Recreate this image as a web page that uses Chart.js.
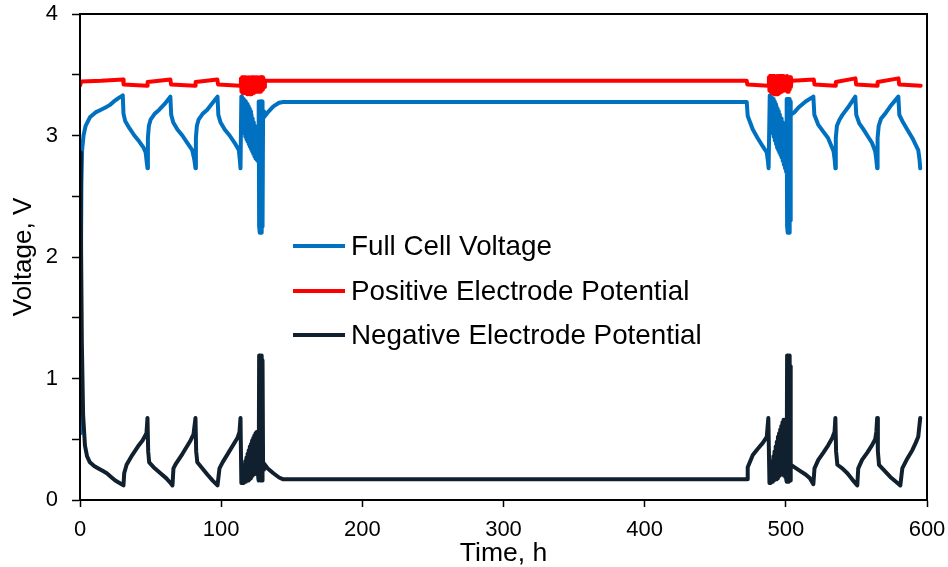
<!DOCTYPE html>
<html>
<head>
<meta charset="utf-8">
<script src="https://cdn.jsdelivr.net/npm/chart.js@4.4.1/dist/chart.umd.min.js"></script>
<style>
  html, body { margin: 0; padding: 0; background: #fff; }
  #wrap { position: relative; width: 948px; height: 567px; }
  .item { position: absolute; left: 293px; height: 30px; line-height: 30px; white-space: nowrap;
          font-family: 'Liberation Sans', Arial, sans-serif; font-size: 27.8px; color: #000; }
  .swatch { position: absolute; left: 0; top: 13px; width: 52px; height: 4px; }
  .label { position: absolute; left: 58px; top: 0; }
</style>
</head>
<body>
<div id="wrap">
  <canvas id="display1" width="948" height="567"></canvas>
  <div id="legend"></div>
</div>
<script>
(function() {
  'use strict';

  // 時間 [h], 電圧 [V]
  var fullCell = [
    [0,0.55],[0.5,1.6],[1.0,2.6],[1.5,2.88],[2.5,3.0],[4,3.08],[7,3.15],[11,3.19],[14.5,3.21],[18,3.23],[21,3.25],[24,3.28],[27.5,3.31],[30.3,3.33],
    [30.8,3.18],[32,3.12],[35,3.06],[38.5,3.0],[42,2.95],[45,2.9],[46.5,2.86],[47.3,2.78],[47.8,2.73],
    [48.1,2.98],[48.8,3.08],[50,3.13],[53,3.18],[56,3.21],[60,3.26],[64,3.32],
    [64.6,3.17],[66,3.11],[69,3.05],[72.5,3.0],[76,2.94],[79.5,2.88],[81,2.8],[81.8,2.73],
    [82.1,2.98],[82.8,3.08],[84,3.13],[87,3.18],[90,3.21],[94,3.27],[97.4,3.32],
    [98,3.17],[99.5,3.11],[102.5,3.05],[106,3.0],[109.5,2.94],[112.5,2.88],[113.2,2.8],[113.7,2.73],
    [114.3,3.32],[114.7,3.08],[115.1,3.31],[115.5,3.05],[115.9,3.30],[116.3,3.02],[116.7,3.29],[117.1,2.99],[117.5,3.28],
    [117.9,2.97],[118.3,3.26],[118.7,2.95],[119.1,3.24],[119.5,2.93],[119.9,3.22],[120.3,2.91],[120.7,3.20],[121.1,2.89],
    [121.5,3.17],[121.9,2.87],[122.3,3.14],[122.7,2.85],[123.1,3.11],[123.5,2.83],[123.9,3.08],[124.3,2.81],[124.7,3.05],
    [125.1,2.80],[125.5,3.02],[125.9,2.79],[126.3,2.98],
    [126.6,3.28],[126.9,2.25],[127.2,3.28],[127.5,2.20],[127.8,3.28],[128.1,2.20],[128.4,3.28],[128.7,2.20],[129.0,3.28],[129.3,2.25],[129.7,3.20],
    [130.3,3.15],[133,3.19],[137,3.24],[141,3.27],[144,3.276],[472.3,3.276],
    [473,3.16],[476.6,3.05],[480,2.98],[483.7,2.91],[486.5,2.86],[487.3,2.79],[487.8,2.73],
    [488.6,3.33],[489.0,3.08],[489.4,3.32],[489.8,3.05],[490.2,3.31],[490.6,3.02],[491.0,3.30],[491.4,2.99],[491.8,3.28],
    [492.2,2.96],[492.6,3.26],[493.0,2.93],[493.4,3.24],[493.8,2.90],[494.2,3.22],[494.6,2.88],[495.0,3.20],[495.4,2.86],
    [495.8,3.17],[496.2,2.84],[496.6,3.14],[497.0,2.82],[497.4,3.11],[497.8,2.79],[498.2,3.08],[498.6,2.76],[499.0,3.05],
    [499.4,2.73],[499.8,3.01],[500.2,2.70],
    [500.6,3.30],[500.9,2.25],[501.2,3.30],[501.5,2.20],[501.8,3.30],[502.1,2.20],[502.4,3.30],[502.7,2.20],[503.0,3.28],[503.3,2.30],
    [503.6,3.17],[506,3.19],[509,3.23],[514,3.28],[519.5,3.32],
    [520.2,3.17],[522.9,3.09],[526,3.04],[529.9,2.98],[533.8,2.87],[534.6,2.8],[535.1,2.73],
    [535.4,2.98],[536.2,3.08],[538,3.13],[540.1,3.17],[544,3.23],[549.2,3.32],
    [549.9,3.17],[552,3.1],[555,3.05],[557.7,3.0],[561,2.94],[563.3,2.87],[564.1,2.8],[564.7,2.73],
    [565,2.98],[565.8,3.08],[567.5,3.14],[570.4,3.18],[574,3.24],[579.7,3.32],
    [580.4,3.17],[582.5,3.12],[586,3.05],[589.6,2.98],[593.8,2.88],[594.7,2.8],[595.2,2.73]
  ];

  var positive = [
    [0,3.41],[1,3.445],[15,3.45],[30.5,3.46],[30.9,3.42],[47.5,3.41],[47.9,3.44],[64,3.46],[64.5,3.42],
    [81.5,3.41],[81.9,3.44],[97.3,3.46],[97.8,3.42],[113.6,3.41],
    [114.0,3.47],[114.4,3.36],[114.8,3.48],[115.2,3.35],[115.6,3.47],[116.0,3.36],[116.4,3.48],[116.8,3.35],
    [117.2,3.47],[117.6,3.35],[118.0,3.48],[118.4,3.34],[118.8,3.47],[119.2,3.35],[119.6,3.48],[120.0,3.34],
    [120.4,3.47],[120.8,3.34],[121.2,3.48],[121.6,3.34],[122.0,3.47],[122.4,3.35],[122.8,3.48],[123.2,3.35],
    [123.6,3.47],[124.0,3.36],[124.4,3.48],[124.8,3.36],[125.2,3.48],[125.6,3.37],[126.0,3.48],[126.4,3.38],
    [126.8,3.47],[127.2,3.36],[127.6,3.48],[128.0,3.36],[128.4,3.48],[128.8,3.37],[129.2,3.48],[129.6,3.38],
    [130.0,3.47],[130.5,3.40],
    [131,3.45],[472.3,3.45],[472.7,3.42],[487.5,3.41],
    [488.0,3.48],[488.4,3.37],[488.8,3.49],[489.2,3.36],[489.6,3.48],[490.0,3.35],[490.4,3.49],[490.8,3.35],
    [491.2,3.48],[491.6,3.34],[492.0,3.49],[492.4,3.34],[492.8,3.48],[493.2,3.34],[493.6,3.49],[494.0,3.34],
    [494.4,3.48],[494.8,3.35],[495.2,3.49],[495.6,3.35],[496.0,3.48],[496.4,3.36],[496.8,3.49],[497.2,3.36],
    [497.6,3.48],[498.0,3.37],[498.4,3.49],[498.8,3.37],[499.2,3.48],[499.6,3.38],[500.0,3.48],[500.4,3.37],
    [500.8,3.49],[501.2,3.36],[501.6,3.48],[502.0,3.36],[502.4,3.48],[502.8,3.38],[503.2,3.48],[503.6,3.40],
    [504.0,3.46],[504.5,3.45],[519.8,3.46],[520.3,3.42],[535,3.41],[535.4,3.44],[549.3,3.47],[549.8,3.42],
    [564.6,3.41],[565,3.44],[579.8,3.47],[580.3,3.42],[595.5,3.41]
  ];

  var negative = [
    [0,2.86],[0.6,2.3],[1.3,1.3],[2.2,0.7],[3.5,0.45],[5,0.36],[7,0.31],[10,0.28],[13,0.26],[16,0.24],[19,0.22],[22,0.19],[25,0.16],[28,0.14],[30.8,0.12],
    [31.3,0.22],[33,0.29],[37,0.37],[41,0.44],[44.3,0.49],[47.1,0.55],[47.8,0.675],
    [48.3,0.40],[49,0.31],[52.1,0.27],[57,0.22],[61,0.18],[64.1,0.14],[65.5,0.12],
    [66.2,0.26],[68,0.3],[72.6,0.38],[78.3,0.49],[80.4,0.54],[81.8,0.675],
    [82.3,0.40],[83.1,0.31],[86,0.27],[90.2,0.21],[94,0.16],[97.4,0.12],
    [98.8,0.26],[101,0.31],[105.2,0.39],[111.5,0.51],[113,0.56],[113.7,0.675],
    [114.3,0.14],[114.7,0.22],[115.1,0.14],[115.5,0.26],[115.9,0.14],[116.3,0.29],[116.7,0.15],[117.1,0.32],[117.5,0.15],
    [117.9,0.35],[118.3,0.16],[118.7,0.38],[119.1,0.16],[119.5,0.41],[119.9,0.17],[120.3,0.44],[120.7,0.18],[121.1,0.46],
    [121.5,0.19],[121.9,0.49],[122.3,0.20],[122.7,0.51],[123.1,0.21],[123.5,0.53],[123.9,0.22],[124.3,0.55],[124.7,0.22],
    [125.1,0.56],[125.5,0.21],[125.9,0.54],[126.3,0.18],
    [126.6,0.16],[126.9,1.19],[127.2,0.17],[127.5,1.19],[127.8,0.16],[128.1,1.19],[128.4,0.17],[128.7,1.19],[129.0,0.16],[129.3,1.15],[129.7,0.25],
    [130.3,0.30],[133,0.26],[137,0.22],[141,0.185],[144,0.17],[472.5,0.17],
    [473,0.27],[476.6,0.37],[480,0.42],[483.7,0.47],[486.5,0.52],[487.6,0.675],
    [488.4,0.14],[488.8,0.24],[489.2,0.14],[489.6,0.28],[490.0,0.15],[490.4,0.32],[490.8,0.15],[491.2,0.36],[491.6,0.16],
    [492.0,0.40],[492.4,0.17],[492.8,0.44],[493.2,0.17],[493.6,0.48],[494.0,0.18],[494.4,0.52],[494.8,0.19],[495.2,0.55],
    [495.6,0.20],[496.0,0.58],[496.4,0.21],[496.8,0.61],[497.2,0.21],[497.6,0.64],[498.0,0.21],[498.4,0.66],[498.8,0.20],
    [499.2,0.66],[499.6,0.19],[500.0,0.62],[500.3,0.17],
    [500.6,0.15],[500.9,1.19],[501.2,0.16],[501.5,1.19],[501.8,0.15],[502.1,1.19],[502.4,0.16],[502.7,1.19],[503.0,0.16],[503.3,1.10],
    [503.6,0.29],[506,0.27],[510,0.24],[514,0.21],[517,0.18],[519.5,0.13],
    [520.3,0.26],[523,0.33],[526.6,0.39],[530,0.45],[532.9,0.51],[534.5,0.56],[535.1,0.675],
    [535.6,0.40],[536.5,0.29],[540,0.26],[543.6,0.22],[547,0.17],[550.6,0.12],
    [551.3,0.26],[554,0.33],[557.7,0.39],[561,0.45],[563.3,0.5],[564.1,0.56],[564.7,0.675],
    [565.2,0.40],[566,0.29],[570,0.24],[574,0.19],[578,0.15],[581.1,0.12],
    [582.5,0.26],[586,0.34],[589.6,0.41],[592,0.47],[593.8,0.52],[595.2,0.675]
  ];

  var labels = ['Full Cell Voltage', 'Positive Electrode Potential', 'Negative Electrode Potential'];
  var colors = ['#0070c0', '#ff0000', '#10202e'];

  var font = "'Liberation Sans', Arial, sans-serif";

  function toPoints(list) {
    return list.map(function(p) { return { x: p[0], y: p[1] }; });
  }

  // 枠線
  var frame = {
    id: 'frame',
    afterDraw: function(chart) {
      var a = chart.chartArea, c = chart.ctx;
      c.save();
      c.strokeStyle = '#000';
      c.lineWidth = 2;
      c.strokeRect(a.left, a.top, a.right - a.left, a.bottom - a.top);
      c.restore();
    }
  };

  var data = {
    datasets: [
      { label: labels[0], data: toPoints(fullCell), borderColor: colors[0], order: 3 },
      { label: labels[1], data: toPoints(positive), borderColor: colors[1], order: 2 },
      { label: labels[2], data: toPoints(negative), borderColor: colors[2], order: 1 }
    ]
  };

  var ctx = document.getElementById('display1').getContext('2d');

  new Chart(ctx, {
    type: 'line',
    data: data,
    plugins: [frame],
    options: {
      responsive: false,
      animation: false,
      layout: { padding: { left: 0, right: 21, top: 14, bottom: 0 } },
      elements: {
        point: { radius: 0 },
        line: { borderWidth: 4, tension: 0, borderJoinStyle: 'round', borderCapStyle: 'round', fill: false }
      },
      plugins: { legend: { display: false }, tooltip: { enabled: false } },
      scales: {
        x: {
          type: 'linear', min: 0, max: 600,
          afterFit: function(s) { s.height = 67; s.paddingLeft = 0; s.paddingRight = 0; },
          ticks: { stepSize: 100, color: '#000', padding: 10, font: { family: font, size: 22 } },
          grid: { drawOnChartArea: false, tickLength: 7, color: '#000', tickWidth: 1.5 },
          border: { color: '#000', width: 2 },
          title: { display: true, text: 'Time, h', color: '#000', padding: { top: 0, bottom: -3 }, font: { family: font, size: 26.5 } }
        },
        y: {
          min: 0, max: 4,
          afterFit: function(s) { s.width = 80; s.paddingTop = 0; s.paddingBottom = 0; },
          ticks: {
            stepSize: 0.5, color: '#000', padding: 14, font: { family: font, size: 22 },
            callback: function(v) { return v % 1 === 0 ? v : ''; }
          },
          grid: { drawOnChartArea: false, tickLength: 8, color: '#000', tickWidth: 1.5 },
          border: { color: '#000', width: 2 },
          title: { display: true, text: 'Voltage, V', color: '#000', padding: { top: 8, bottom: 0 }, font: { family: font, size: 26 } }
        }
      }
    }
  });

  // 凡例
  var legend = document.getElementById('legend');
  var tops = [231, 276, 320];
  for (var i = 0; i < labels.length; i++) {
    var item = document.createElement('div');
    item.className = 'item';
    item.style.top = tops[i] + 'px';
    item.innerHTML = '<span class="swatch" style="background:' + colors[i] + '"></span><span class="label"></span>';
    item.querySelector('.label').textContent = labels[i];
    legend.appendChild(item);
  }
})();
</script>
</body>
</html>
